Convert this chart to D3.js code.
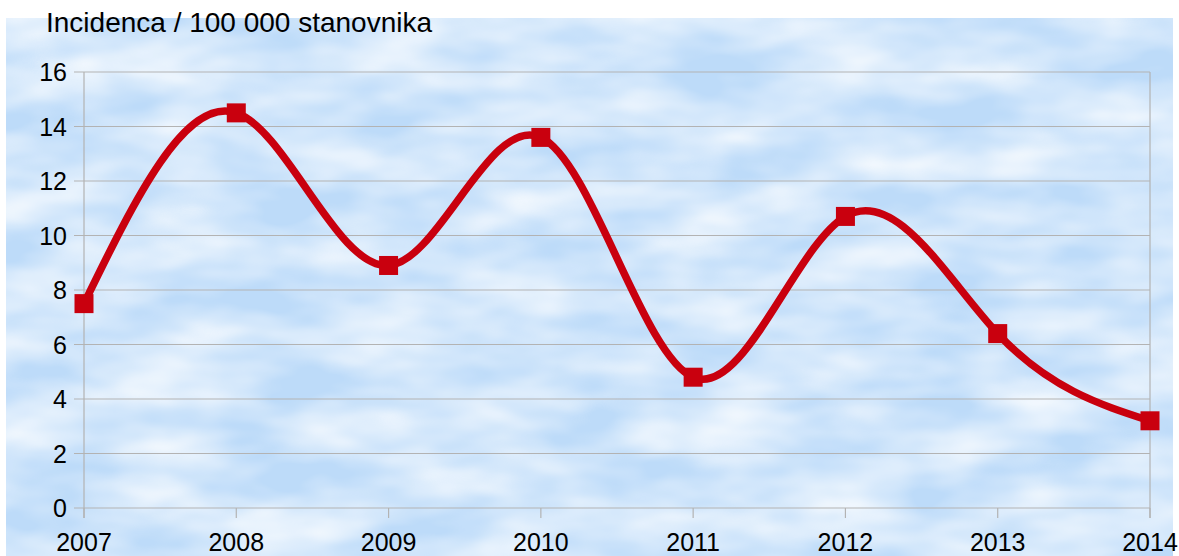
<!DOCTYPE html>
<html><head><meta charset="utf-8">
<script src="https://cdn.jsdelivr.net/npm/d3@7"></script>
<style>html,body{margin:0;padding:0;background:#fff;}svg{display:block;font-family:"Liberation Sans",Arial,sans-serif;}</style>
</head><body>
<svg id="c" width="1179" height="556"></svg>
<script>
const years = ["2007","2008","2009","2010","2011","2012","2013","2014"];
const values = [7.5, 14.5, 8.9, 13.6, 4.8, 10.7, 6.4, 3.2];
const yTicks = [0,2,4,6,8,10,12,14,16];
const title = "Incidenca / 100 000 stanovnika";

const svg = d3.select("#c");
const defs = svg.append("defs");
const f = defs.append("filter").attr("id","clouds").attr("x",0).attr("y",0).attr("width",1).attr("height",1)
  .attr("filterUnits","objectBoundingBox");
f.append("feTurbulence").attr("type","fractalNoise").attr("baseFrequency","0.009 0.022").attr("numOctaves",3).attr("seed",11);
f.append("feColorMatrix").attr("type","matrix")
  .attr("values","0 0 0 0 1  0 0 0 0 1  0 0 0 0 1  1.3 0 0 0 -0.33");

svg.append("rect").attr("x",6).attr("y",18).attr("width",1167).attr("height",538).attr("fill","#bddbf9");
svg.append("rect").attr("x",6).attr("y",18).attr("width",1167).attr("height",538).attr("fill","#fff").attr("filter","url(#clouds)");

const x = d3.scalePoint().domain(years).range([84,1150]);
const y = d3.scaleLinear().domain([0,16]).range([508,72]);

svg.append("g").selectAll("line").data(yTicks).join("line")
  .attr("x1",74).attr("x2",1150).attr("y1",d=>y(d)).attr("y2",d=>y(d))
  .attr("stroke","#b3b3b3").attr("stroke-width",1.2);
svg.append("line").attr("x1",84).attr("x2",84).attr("y1",72).attr("y2",518).attr("stroke","#b3b3b3").attr("stroke-width",1.2);
svg.append("line").attr("x1",1150).attr("x2",1150).attr("y1",72).attr("y2",518).attr("stroke","#b3b3b3").attr("stroke-width",1.2);
svg.append("g").selectAll("line").data(years).join("line")
  .attr("x1",d=>x(d)).attr("x2",d=>x(d)).attr("y1",508).attr("y2",518)
  .attr("stroke","#b3b3b3").attr("stroke-width",1.2);

svg.append("g").selectAll("text").data(yTicks).join("text")
  .attr("x",67).attr("y",d=>y(d)+9).attr("text-anchor","end")
  .attr("font-size",25).attr("fill","#000").text(d=>d);
svg.append("g").selectAll("text").data(years).join("text")
  .attr("x",d=>x(d)).attr("y",551).attr("text-anchor","middle")
  .attr("font-size",25).attr("fill","#000").text(d=>d);
svg.append("text").attr("x",46).attr("y",32).attr("font-size",28).attr("fill","#000").text(title);

const data = years.map((yr,i)=>({yr, v: values[i]}));
const line = d3.line().x(d=>x(d.yr)).y(d=>y(d.v)).curve(d3.curveNatural);
svg.append("path").datum(data).attr("d",line).attr("fill","none")
  .attr("stroke","#c9000e").attr("stroke-width",7.5).attr("stroke-linejoin","round");
svg.append("g").selectAll("rect").data(data).join("rect")
  .attr("x",d=>x(d.yr)-9.5).attr("y",d=>y(d.v)-9.5).attr("width",19).attr("height",19)
  .attr("fill","#c9000e");
</script>
</body></html>
